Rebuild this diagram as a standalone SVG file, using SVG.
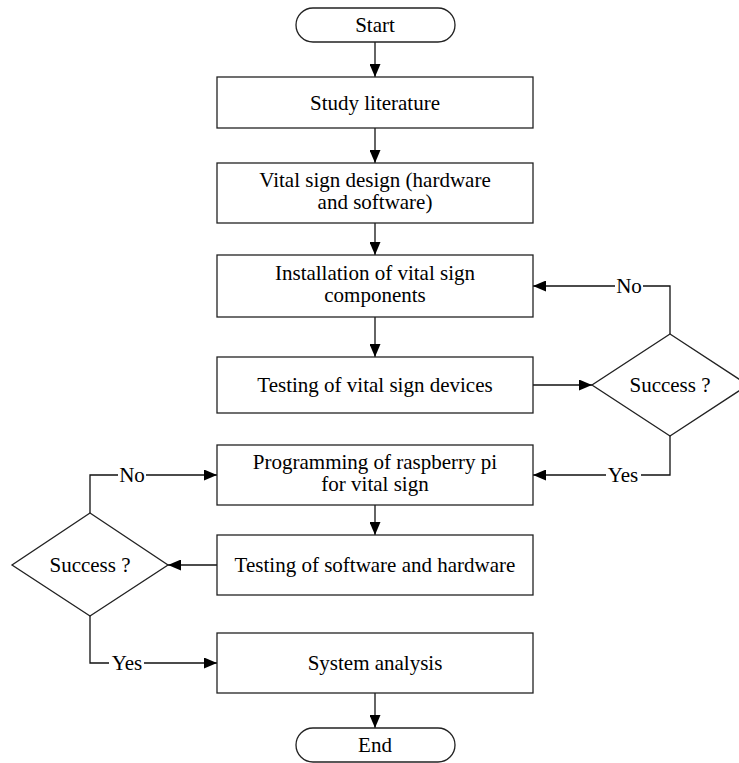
<svg xmlns="http://www.w3.org/2000/svg" width="739" height="763" viewBox="0 0 739 763">
<style>
.box{fill:#fff;stroke:#222;stroke-width:1.3}
.ln{fill:none;stroke:#111;stroke-width:1.3}
text{font-family:"Liberation Serif","Times New Roman",serif;font-size:21px;fill:#000;text-anchor:middle}
.bg{fill:#fff}
</style>
<defs>
<marker id="ah" markerUnits="userSpaceOnUse" markerWidth="13" markerHeight="11" refX="13" refY="5.5" orient="auto">
<path d="M0,0 L13,5.5 L0,11 z" fill="#000"/>
</marker>
</defs>
<rect width="739" height="763" fill="#fff"/>
<g id="connectors">
<line class="ln" x1="375" y1="42" x2="375" y2="77" marker-end="url(#ah)"/>
<line class="ln" x1="375" y1="128" x2="375" y2="163" marker-end="url(#ah)"/>
<line class="ln" x1="375" y1="223" x2="375" y2="255" marker-end="url(#ah)"/>
<line class="ln" x1="375" y1="317" x2="375" y2="357" marker-end="url(#ah)"/>
<line class="ln" x1="533" y1="385" x2="592" y2="385" marker-end="url(#ah)"/>
<polyline class="ln" points="670,334 670,286 533,286" marker-end="url(#ah)"/>
<polyline class="ln" points="670,436 670,475 533,475" marker-end="url(#ah)"/>
<line class="ln" x1="375" y1="505" x2="375" y2="535" marker-end="url(#ah)"/>
<line class="ln" x1="217" y1="565" x2="168" y2="565" marker-end="url(#ah)"/>
<polyline class="ln" points="90,513 90,475 217,475" marker-end="url(#ah)"/>
<polyline class="ln" points="90,616 90,663 217,663" marker-end="url(#ah)"/>
<line class="ln" x1="375" y1="693" x2="375" y2="728" marker-end="url(#ah)"/>
<rect class="bg" x="615" y="276" width="28" height="20"/>
<text x="629" y="293">No</text>
<rect class="bg" x="606" y="465" width="35" height="20"/>
<text x="623" y="482">Yes</text>
<rect class="bg" x="118" y="465" width="28" height="20"/>
<text x="132" y="482">No</text>
<rect class="bg" x="109" y="653" width="35" height="20"/>
<text x="127" y="670">Yes</text>
</g>
<g id="start">
<rect class="box" x="296" y="8" width="159" height="34" rx="17" ry="17"/>
<text x="375" y="32">Start</text>
</g>
<g id="study">
<rect class="box" x="217" y="77" width="316" height="51"/>
<text x="375" y="110">Study literature</text>
</g>
<g id="design">
<rect class="box" x="217" y="163" width="316" height="60"/>
<text x="375" y="187">Vital sign design (hardware<tspan x="375" dy="22">and software)</tspan></text>
</g>
<g id="install">
<rect class="box" x="217" y="255" width="316" height="62"/>
<text x="375" y="280">Installation of vital sign<tspan x="375" dy="22">components</tspan></text>
</g>
<g id="testdev">
<rect class="box" x="217" y="357" width="316" height="56"/>
<text x="375" y="392">Testing of vital sign devices</text>
</g>
<g id="dec1">
<polygon class="box" points="670,334 748,385 670,436 592,385"/>
<text x="670" y="392">Success ?</text>
</g>
<g id="program">
<rect class="box" x="217" y="445" width="316" height="60"/>
<text x="375" y="469">Programming of raspberry pi<tspan x="375" dy="22">for vital sign</tspan></text>
</g>
<g id="testsw">
<rect class="box" x="217" y="535" width="316" height="60"/>
<text x="375" y="572">Testing of software and hardware</text>
</g>
<g id="dec2">
<polygon class="box" points="90,513 168,565 90,616 12,565"/>
<text x="90" y="572">Success ?</text>
</g>
<g id="analysis">
<rect class="box" x="217" y="633" width="316" height="60"/>
<text x="375" y="670">System analysis</text>
</g>
<g id="end">
<rect class="box" x="296" y="728" width="159" height="34" rx="17" ry="17"/>
<text x="375" y="752">End</text>
</g>
</svg>
